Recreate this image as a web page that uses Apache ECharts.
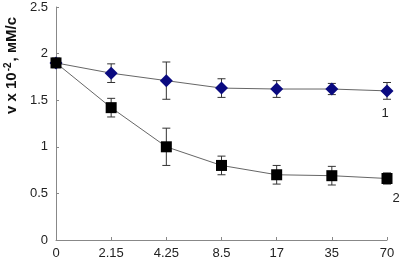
<!DOCTYPE html>
<html>
<head>
<meta charset="utf-8">
<script src="https://cdn.jsdelivr.net/npm/echarts@6/dist/echarts.min.js"></script>
<style>
  html, body { margin: 0; padding: 0; background: #fff; }
  #main { width: 400px; height: 266px; }
</style>
</head>
<body>
<div id="main"></div>
<script>
var categories = ['0', '2.15', '4.25', '8.5', '17', '35', '70'];
var curve1 = [1.90, 1.79, 1.71, 1.63, 1.62, 1.62, 1.60];
var err1 = [0.05, 0.10, 0.20, 0.10, 0.09, 0.06, 0.09];
var curve2 = [1.90, 1.42, 1.00, 0.80, 0.70, 0.69, 0.66];
var err2 = [0.05, 0.10, 0.20, 0.10, 0.10, 0.10, 0.06];

var chart = echarts.init(document.getElementById('main'), null, { renderer: 'canvas' });

function errData(vals, errs) {
  return vals.map(function (v, i) { return [i, v - errs[i], v + errs[i]]; });
}

function errorBar(color) {
  return function (params, api) {
    var lo = api.coord([api.value(0), api.value(1)]);
    var hi = api.coord([api.value(0), api.value(2)]);
    var w = 4;
    var st = { stroke: color, lineWidth: 1 };
    return {
      type: 'group',
      children: [
        { type: 'line', shape: { x1: hi[0], y1: hi[1], x2: lo[0], y2: lo[1] }, style: st },
        { type: 'line', shape: { x1: hi[0] - w, y1: hi[1], x2: hi[0] + w, y2: hi[1] }, style: st },
        { type: 'line', shape: { x1: lo[0] - w, y1: lo[1], x2: lo[0] + w, y2: lo[1] }, style: st }
      ]
    };
  };
}

function withEndLabel(vals, text, offset) {
  return vals.map(function (v, i) {
    if (i !== vals.length - 1) return v;
    return {
      value: v,
      label: {
        show: true, formatter: text, position: 'bottom', offset: offset,
        color: '#222', fontSize: 13, fontFamily: 'Liberation Sans'
      }
    };
  });
}

var option = {
  backgroundColor: '#ffffff',
  animation: false,
  grid: { left: 56, right: 13, top: 7, bottom: 26 },
  xAxis: {
    type: 'category',
    data: categories,
    boundaryGap: false,
    axisLine: { lineStyle: { color: '#888', width: 1 } },
    axisTick: { show: true, inside: true, length: 3, lineStyle: { color: '#888' } },
    axisLabel: { color: '#222', fontSize: 13, fontFamily: 'Liberation Sans', margin: 7 },
    splitLine: { show: false }
  },
  yAxis: {
    type: 'value',
    min: 0, max: 2.5, interval: 0.5,
    axisLine: { show: true, lineStyle: { color: '#888', width: 1 } },
    axisTick: { show: true, inside: true, length: 3, lineStyle: { color: '#888' } },
    axisLabel: { color: '#222', fontSize: 13, fontFamily: 'Liberation Sans', margin: 8 },
    splitLine: { show: false }
  },
  graphic: [{
    type: 'text',
    left: 3,
    top: 17,
    rotation: Math.PI / 2,
    style: {
      text: '{b|v x 10}{s|-2}{b|, мМ/с}',
      rich: {
        b: { fontSize: 15, fontWeight: 'bold', fontFamily: 'Liberation Sans', fill: '#111' },
        s: { fontSize: 10, fontWeight: 'bold', fontFamily: 'Liberation Sans', fill: '#111', verticalAlign: 'top', padding: [0, 1, 8, 1] }
      }
    }
  }],
  series: [
    {
      type: 'custom',
      renderItem: errorBar('#333'),
      data: errData(curve1, err1),
      encode: { x: 0, y: [1, 2] },
      z: 1
    },
    {
      type: 'custom',
      renderItem: errorBar('#333'),
      data: errData(curve2, err2),
      encode: { x: 0, y: [1, 2] },
      z: 1
    },
    {
      name: '1',
      type: 'line',
      data: withEndLabel(curve1, '1', [-2, 5]),
      symbol: 'diamond',
      symbolSize: 13,
      itemStyle: { color: '#0a0a80' },
      lineStyle: { color: '#666', width: 1 },
      z: 3
    },
    {
      name: '2',
      type: 'line',
      data: withEndLabel(curve2, '2', [9, 3]),
      symbol: 'rect',
      symbolSize: 11,
      itemStyle: { color: '#000' },
      lineStyle: { color: '#666', width: 1 },
      z: 3
    }
  ]
};

chart.setOption(option, true);
</script>
</body>
</html>
